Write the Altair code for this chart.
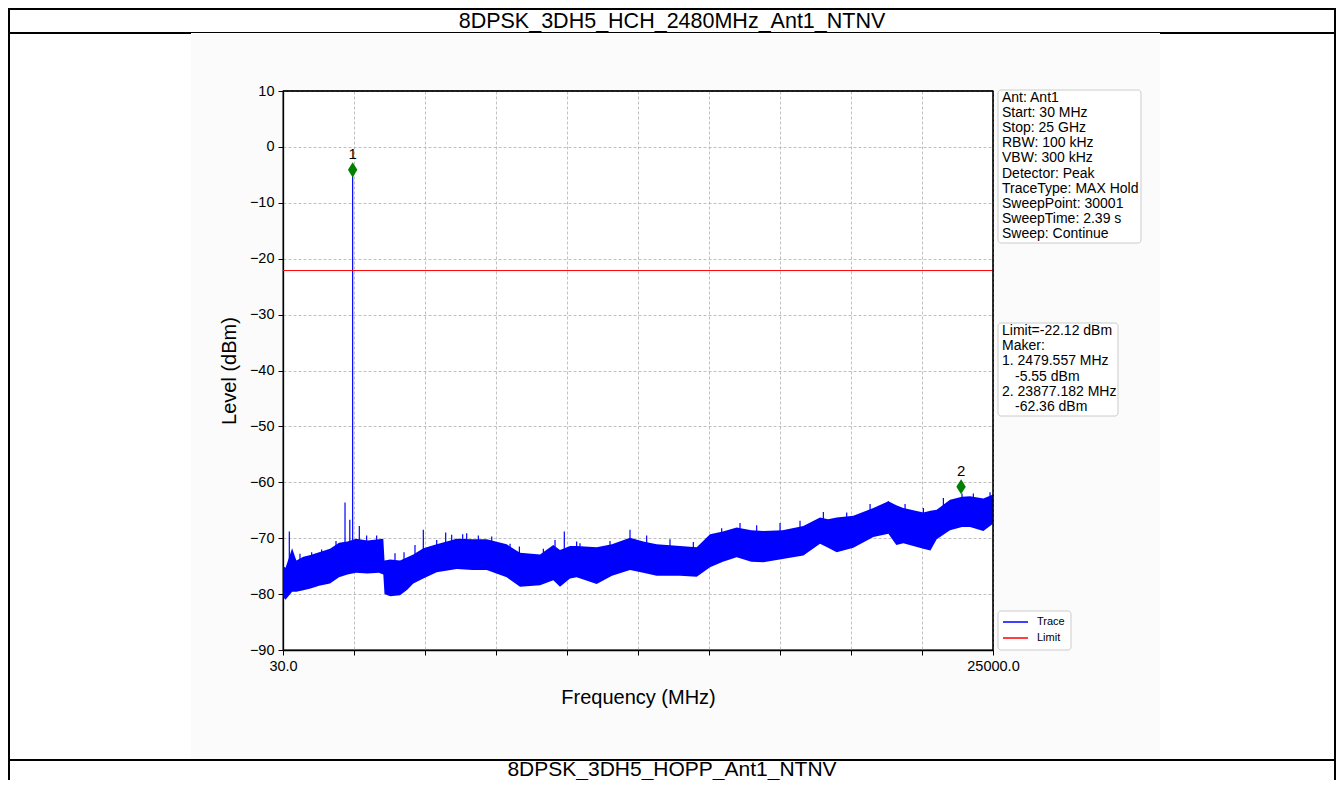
import altair as alt
import pandas as pd

TITLE_TOP = "8DPSK_3DH5_HCH_2480MHz_Ant1_NTNV"
TITLE_BOTTOM = "8DPSK_3DH5_HOPP_Ant1_NTNV"
X_TITLE = "Frequency (MHz)"
Y_TITLE = "Level (dBm)"

# noise band of the trace
freq = [40, 120, 350, 500, 744, 1000, 1300, 1683, 2000, 2300, 2600, 3000, 3400, 3558,
        3600, 3800, 4145, 4400, 4613, 4965, 5435, 6139, 6700, 7194, 7898, 8365, 9069,
        9537, 9772, 10124, 10359, 11062, 11600, 12234, 12700, 13172, 13992, 14580,
        15048, 15500, 15986, 16500, 16924, 17600, 18331, 18917, 19200, 19504, 20090,
        20793, 21321, 21600, 21846, 22549, 22800, 23019, 23488, 23910, 24192, 24661, 25000]
upper = [-75.0, -75.3, -71.8, -74.0, -73.3, -73.0, -72.5, -71.9, -70.8, -70.6, -70.1, -70.4,
         -70.2, -70.1, -74.0, -73.8, -74.0, -73.4, -72.9, -71.8, -71.1, -70.1, -70.2, -70.2,
         -71.1, -72.6, -72.9, -71.2, -72.1, -71.4, -71.4, -71.6, -71.1, -69.9, -70.6, -71.1,
         -71.4, -71.6, -69.3, -68.8, -68.1, -68.6, -68.7, -68.6, -67.8, -66.3, -66.6, -66.3,
         -66.0, -64.6, -63.4, -64.1, -64.6, -65.4, -65.1, -64.9, -63.1, -62.6, -62.5, -62.9, -62.2]
lower = [-80.5, -81.0, -79.6, -79.6, -79.3, -79.0, -78.5, -78.1, -77.0, -76.5, -76.2, -76.3,
         -76.2, -76.5, -80.0, -80.4, -80.2, -79.2, -78.1, -77.2, -76.1, -75.5, -75.7, -75.7,
         -77.0, -78.7, -78.4, -77.5, -78.7, -77.2, -77.0, -78.2, -76.7, -75.7, -76.2, -76.7,
         -76.7, -76.9, -75.2, -74.2, -73.4, -74.2, -74.3, -73.7, -73.1, -71.0, -71.7, -72.5,
         -71.7, -69.8, -69.2, -71.2, -70.9, -71.9, -72.2, -70.2, -68.6, -68.0, -68.0, -68.7, -67.4]

# narrow spikes of the trace that stick out of the noise band
spike_freq = [252, 627, 1038, 1389, 1894, 2011, 2211, 2380, 2479.557, 2714, 2972, 3324,
              3969, 4286, 4672, 4965, 5435, 5751, 5962, 6349, 6490, 6900, 7370, 8015,
              8343, 9187, 9597, 9923, 10357, 10475, 11530, 12234, 12820, 13640, 14461,
              15458, 16103, 16689, 17510, 18213, 19034, 19855, 20676, 21321, 21907,
              22552, 23255, 23910, 24309, 24896]
spike_base = [-76.0, -75.5, -75.0, -74.5, -73.5, -73.0, -72.5, -72.0, -72.0, -72.0, -72.0, -72.0,
              -75.5, -75.5, -74.5, -73.5, -72.5, -72.0, -72.0, -71.5, -71.5, -72.0, -72.0, -72.5,
              -74.0, -74.5, -73.0, -73.0, -73.0, -73.0, -73.0, -72.0, -72.5, -73.0, -73.5,
              -71.0, -70.0, -70.5, -70.5, -70.0, -68.5, -68.0, -67.0, -65.5, -66.5,
              -67.0, -66.5, -64.5, -64.5, -64.5]
spike_peak = [-68.8, -72.8, -72.5, -72.0, -70.5, -71.2, -63.6, -66.7, -4.1, -67.8, -69.5, -69.5,
              -72.7, -72.5, -71.2, -68.5, -70.3, -69.0, -69.4, -69.3, -69.1, -69.5, -69.7, -71.0,
              -71.5, -71.9, -70.3, -68.8, -70.6, -70.9, -70.5, -68.5, -69.5, -70.2, -70.7,
              -68.2, -67.3, -67.7, -67.3, -66.9, -65.3, -65.4, -63.9, -63.4, -63.9,
              -64.6, -62.8, -62.0, -62.0, -61.8]

marker_freq = [2479.557, 23877.182]
marker_level = [-4.1, -60.8]
marker_label = ["1", "2"]

limit_level = -22.12

x_ticks = [30, 2527, 5024, 7521, 10018, 12515, 15012, 17509, 20006, 22503, 25000]
y_ticks = [-90, -80, -70, -60, -50, -40, -30, -20, -10, 0, 10]

info_lines = ["Ant: Ant1", "Start: 30 MHz", "Stop: 25 GHz", "RBW: 100 kHz", "VBW: 300 kHz",
              "Detector: Peak", "TraceType: MAX Hold", "SweepPoint: 30001",
              "SweepTime: 2.39 s", "Sweep: Continue"]
marker_lines = ["Limit=-22.12 dBm", "Maker:", "1. 2479.557 MHz", "-5.55 dBm",
                "2. 23877.182 MHz", "-62.36 dBm"]
marker_indent = [0, 0, 0, 1, 0, 1]
legend_names = ["Trace", "Limit"]
legend_colors = ["blue", "red"]

FONT = "Liberation Sans"
W, H = 710, 559

xs = alt.Scale(domain=[30, 25000], nice=False, zero=False)
ys = alt.Scale(domain=[-90, 10], nice=False, zero=False)

one = pd.DataFrame({"k": [0]})


def rect(x, x2, y, y2, **kw):
    return alt.Chart(one).mark_rect(**kw).encode(
        x=alt.value(x), x2=alt.value(x2), y=alt.value(y), y2=alt.value(y2))


def rule(x, x2, y, y2, **kw):
    return alt.Chart(one).mark_rule(**kw).encode(
        x=alt.value(x), x2=alt.value(x2), y=alt.value(y), y2=alt.value(y2))


def label(x, y, txt, size, align="left", baseline="middle"):
    return alt.Chart(one).mark_text(font=FONT, fontSize=size, align=align,
                                    baseline=baseline, color="black").encode(
        x=alt.value(x), y=alt.value(y), text=alt.value(txt))


# ---------- page (white) around the picture (light grey background) ----------
page = [
    rect(-276, -92, -84, 690, fill="white"),
    rect(877, 1054, -84, 690, fill="white"),
    rect(-276, 1054, -84, -57, fill="white"),
    rect(-276, 1054, 669, 690, fill="white"),
]
frame = [
    rule(-275, 1052, -82, -82, color="black", strokeWidth=2),
    rule(-274, -274, -83, 689, color="black", strokeWidth=2),
    rule(1052, 1052, -83, 689, color="black", strokeWidth=2),
    rule(-275, -92, -58, -58, color="black", strokeWidth=2),
    rule(877, 1052, -58, -58, color="black", strokeWidth=2),
    rule(-92, 877, -58.5, -58.5, color="black", strokeWidth=1),
    rule(-275, 1052, 669, 669, color="black", strokeWidth=2),
]
titles = [
    label(389, -69.5, TITLE_TOP, 21.5, align="center"),
    label(389, 679, TITLE_BOTTOM, 21, align="center"),
]

# ---------- data layers ----------
band_df = pd.DataFrame({"freq": freq, "upper": upper, "lower": lower})
band = alt.Chart(band_df).mark_area(color="blue", opacity=1, interpolate="linear").encode(
    x=alt.X("freq:Q", scale=xs,
            axis=alt.Axis(values=x_ticks, title=X_TITLE,
                          labelExpr="(datum.value == 30 || datum.value == 25000) ? format(datum.value, '.1f') : ''")),
    y=alt.Y("lower:Q", scale=ys,
            axis=alt.Axis(values=y_ticks, title=Y_TITLE,
                          labelExpr="replace(format(datum.value, 'd'), '-', '\u2212')")),
    y2="upper:Q",
)

spike_df = pd.DataFrame({"f": spike_freq, "b": spike_base, "p": spike_peak})
spikes = alt.Chart(spike_df).mark_rule(color="blue", strokeWidth=1.2).encode(
    x=alt.X("f:Q", scale=xs), y=alt.Y("b:Q", scale=ys), y2="p:Q")

limit_df = pd.DataFrame({"x0": [30], "x1": [25000], "lv": [limit_level]})
limit = alt.Chart(limit_df).mark_rule(color="red", strokeWidth=1).encode(
    x=alt.X("x0:Q", scale=xs), x2="x1:Q", y=alt.Y("lv:Q", scale=ys))

mk_df = pd.DataFrame({"f": marker_freq, "v": marker_level, "t": marker_label})
DIAMOND = "M0,-1L0.62,0L0,1L-0.62,0Z"
markers = alt.Chart(mk_df).mark_point(shape=DIAMOND, filled=True, color="green",
                                        opacity=1, size=230).encode(
    x=alt.X("f:Q", scale=xs), y=alt.Y("v:Q", scale=ys))
mk_text = alt.Chart(mk_df).mark_text(font=FONT, fontSize=15, color="black", dy=-16,
                                     baseline="middle").encode(
    x=alt.X("f:Q", scale=xs), y=alt.Y("v:Q", scale=ys), text="t:N")

# top and right spines drawn above the grid
spines = [
    rule(0, W, 0, 0, color="black", strokeWidth=1.3),
    rule(W, W, 0, H, color="black", strokeWidth=1.3),
]

# ---------- info boxes ----------
LH = 15.2
box1 = rect(715, 858, -1, 152, fill="white", stroke="#cccccc", strokeWidth=1, cornerRadius=3)
box1_text = [label(719, 6.5 + LH * i, t, 14) for i, t in enumerate(info_lines)]
box2 = rect(715, 835, 232, 325, fill="white", stroke="#cccccc", strokeWidth=1, cornerRadius=3)
box2_text = [label(719 + 13 * ind, 240 + LH * i, t, 14)
             for i, (t, ind) in enumerate(zip(marker_lines, marker_indent))]

# ---------- legend ----------
leg_box = rect(715, 788, 520, 559, fill="white", stroke="#cccccc", strokeWidth=1, cornerRadius=3)
leg_items = []
for i, (nm, col) in enumerate(zip(legend_names, legend_colors)):
    yy = 531 + 16 * i
    leg_items.append(rule(720, 745, yy, yy, color=col, strokeWidth=1.5))
    leg_items.append(label(754, yy, nm, 11))

chart = alt.layer(
    *page, *frame, *titles, band, spikes, limit, markers, mk_text, *spines,
    box1, *box1_text, box2, *box2_text, leg_box, *leg_items
).properties(
    width=W, height=H,
    autosize=alt.AutoSizeParams(type="none"),
    padding={"left": 275, "top": 83, "right": 343, "bottom": 130},
).configure(background="#fbfbfb", font=FONT).configure_view(
    stroke="black", strokeWidth=1.3, fill="white"
).configure_axis(
    labelFont=FONT, titleFont=FONT, labelFontSize=14.5, titleFontSize=20,
    titleFontWeight="normal", labelColor="black", titleColor="black",
    domainColor="black", domainWidth=1.3, tickColor="black", tickSize=5, tickWidth=1,
    gridColor="#b0b0b0", gridDash=[3, 2], gridWidth=0.8, labelPadding=4,
).configure_axisX(titlePadding=15, labelFlush=False, labelOverlap=False).configure_axisY(titlePadding=10)

chart.save("out.html", embed_options={"renderer": "svg", "actions": False})
